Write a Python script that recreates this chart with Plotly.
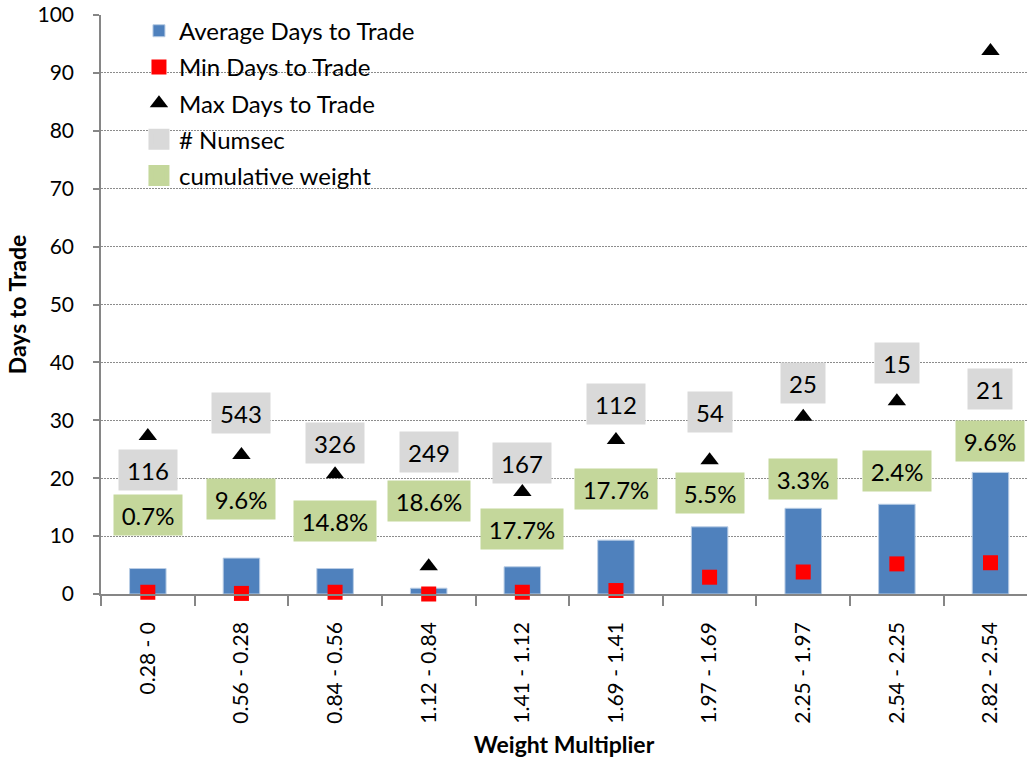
import plotly.graph_objects as go

categories = ["0.28 - 0", "0.56 - 0.28", "0.84 - 0.56", "1.12 - 0.84", "1.41 - 1.12",
              "1.69 - 1.41", "1.97 - 1.69", "2.25 - 1.97", "2.54 - 2.25", "2.82 - 2.54"]
avg_days = [4.4, 6.2, 4.4, 1.0, 4.7, 9.3, 11.6, 14.8, 15.5, 21.0]
min_days = [0.3, 0.1, 0.3, 0.0, 0.3, 0.6, 2.9, 3.8, 5.2, 5.4]
max_days = [27.3, 24.0, 20.7, 4.8, 17.6, 26.6, 23.1, 30.6, 33.3, 93.8]
numsec = [116, 543, 326, 249, 167, 112, 54, 25, 15, 21]
cum_weight = ["0.7%", "9.6%", "14.8%", "18.6%", "17.7%", "17.7%", "5.5%", "3.3%", "2.4%", "9.6%"]

# label anchor heights (in Days to Trade units)
numsec_label_y = [21.4, 31.3, 26.1, 24.5, 22.6, 32.8, 31.4, 36.4, 39.9, 35.4]
cum_label_y = [13.6, 16.4, 12.6, 16.1, 11.2, 18.1, 17.4, 19.9, 21.2, 26.4]

FONT = "Lato"
GRAY = "#D9D9D9"
GREEN = "#C4D79B"
AXIS = "#868686"

fig = go.Figure()
fig.add_trace(go.Bar(x=categories, y=avg_days, name="Average Days to Trade",
                     marker=dict(color="#4F81BD", line=dict(color="#B9CDE5", width=1)),
                     legendgroup="a"))
fig.add_trace(go.Scatter(x=categories, y=min_days, mode="markers", name="Min Days to Trade",
                         marker=dict(symbol="square", size=15, color="#FF0000"),
                         cliponaxis=False, legendgroup="b"))
fig.add_trace(go.Scatter(x=categories, y=max_days, mode="markers", name="Max Days to Trade",
                         marker=dict(symbol="triangle-up", size=16, color="#000000"),
                         cliponaxis=False, legendgroup="c"))
fig.add_trace(go.Scatter(x=[None], y=[None], mode="markers", name="# Numsec",
                         marker=dict(symbol="square", size=16, color=GRAY,
                                     line=dict(color=GRAY, width=5)),
                         legendgroup="d"))
fig.add_trace(go.Scatter(x=[None], y=[None], mode="markers", name="cumulative weight",
                         marker=dict(symbol="square", size=16, color=GREEN,
                                     line=dict(color=GREEN, width=5)),
                         legendgroup="e"))

annotations = []
for cat, n, yy in zip(categories, numsec, numsec_label_y):
    t = str(n)
    annotations.append(dict(x=cat, y=yy, text=t, showarrow=False, bgcolor=GRAY,
                            font=dict(family=FONT, size=24, color="black"),
                            borderpad=6, width=14 * len(t) + 4, height=28))
for cat, w, yy in zip(categories, cum_weight, cum_label_y):
    annotations.append(dict(x=cat, y=yy, text=w, showarrow=False, bgcolor=GREEN,
                            font=dict(family=FONT, size=24, color="black"),
                            borderpad=6, width=14 * len(w), height=28))

fig.update_layout(
    width=1027, height=766,
    margin=dict(l=101, r=0, t=15, b=172, autoexpand=False),
    paper_bgcolor="white", plot_bgcolor="white",
    font=dict(family=FONT, size=21, color="black"),
    bargap=0.61,
    showlegend=True,
    legend=dict(x=0.041, y=1.011, xanchor="left", yanchor="top", itemwidth=30,
                bgcolor="rgba(0,0,0,0)", font=dict(family=FONT, size=24),
                traceorder="grouped", tracegroupgap=2),
    annotations=annotations,
)
fig.update_xaxes(
    type="category", range=[-0.5, 9.39], automargin=False,
    showline=True, linecolor=AXIS, linewidth=1.5,
    ticks="outside", tickson="boundaries", ticklen=10, tickcolor=AXIS, tickwidth=1.5,
    ticklabelstandoff=18,
    tickangle=-90, tickfont=dict(family=FONT, size=21, color="black"),
    showgrid=False,
    title=dict(text="<b>Weight Multiplier</b>", font=dict(family=FONT, size=23, color="black"),
               standoff=14),
)
fig.update_yaxes(
    range=[0, 100], dtick=10, automargin=False,
    showline=True, linecolor=AXIS, linewidth=1.5,
    ticks="outside", ticklen=6, tickcolor=AXIS, tickwidth=1.5,
    ticklabelstandoff=15,
    tickfont=dict(family=FONT, size=21, color="black"),
    showgrid=True, gridcolor="#8C8C8C", gridwidth=1, griddash="2px,1px",
    zeroline=False,
    title=dict(text="<b>Days to Trade</b>", font=dict(family=FONT, size=23, color="black"),
               standoff=4),
)

fig.write_html("out.html", config={"displayModeBar": False},
               post_script="document.body.style.margin='0';")
